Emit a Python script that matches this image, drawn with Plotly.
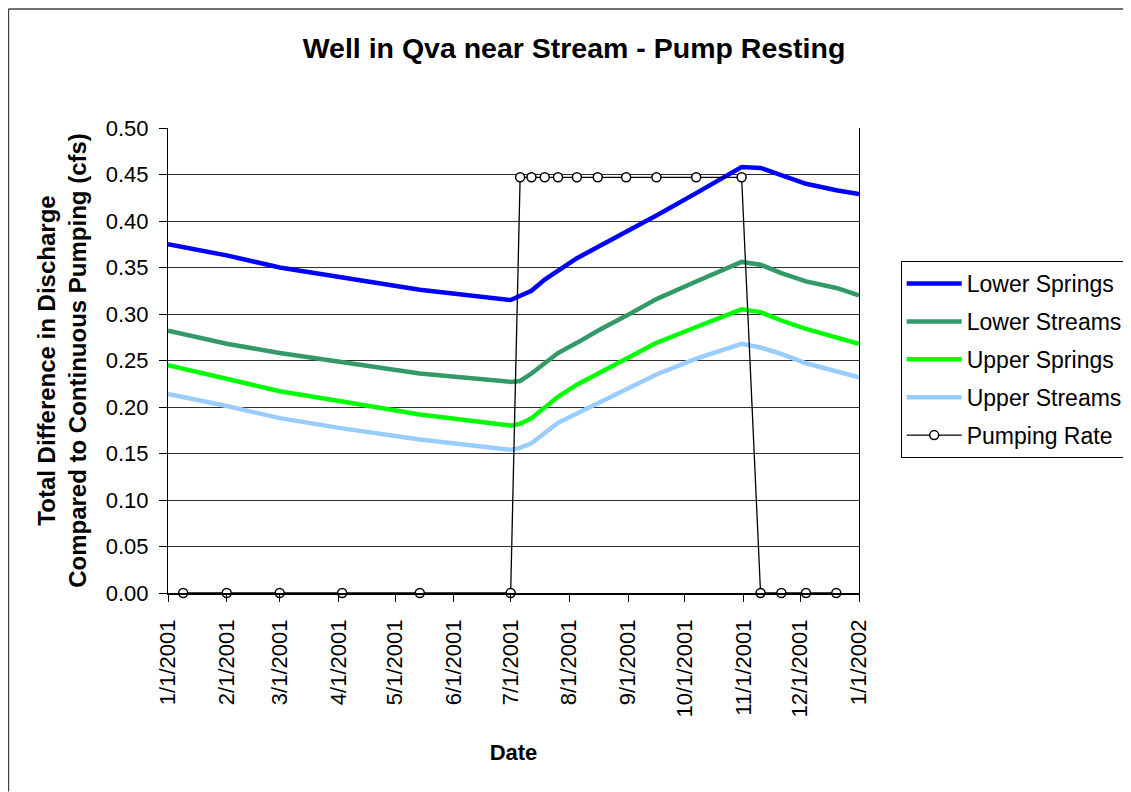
import plotly.graph_objects as go

# ---------------- data ----------------
series_dates = ["2001-01-01", "2001-02-01", "2001-03-01", "2001-04-03", "2001-05-14",
                "2001-07-01", "2001-07-06", "2001-07-12", "2001-07-19", "2001-07-26",
                "2001-08-05", "2001-08-16", "2001-08-31", "2001-09-16", "2001-10-07",
                "2001-10-31", "2001-11-10", "2001-11-21", "2001-12-04", "2001-12-20",
                "2002-01-01"]
lower_springs = [0.375, 0.363, 0.350, 0.339, 0.326, 0.315, 0.319, 0.325, 0.337, 0.347,
                 0.360, 0.372, 0.388, 0.406, 0.430, 0.458, 0.457, 0.449, 0.440, 0.433, 0.429]
lower_streams = [0.282, 0.268, 0.258, 0.248, 0.236, 0.227, 0.228, 0.236, 0.247, 0.258,
                 0.269, 0.282, 0.298, 0.316, 0.335, 0.356, 0.353, 0.344, 0.335, 0.328, 0.320]
upper_springs = [0.245, 0.230, 0.217, 0.206, 0.192, 0.180, 0.182, 0.188, 0.199, 0.211,
                 0.224, 0.236, 0.252, 0.269, 0.286, 0.305, 0.302, 0.293, 0.284, 0.275, 0.268]
upper_streams = [0.214, 0.201, 0.188, 0.177, 0.165, 0.154, 0.156, 0.161, 0.172, 0.183,
                 0.193, 0.204, 0.218, 0.235, 0.252, 0.268, 0.264, 0.257, 0.247, 0.238, 0.232]

pump_dates = ["2001-01-09", "2001-02-01", "2001-03-01", "2001-04-03", "2001-05-14",
              "2001-07-01", "2001-07-06", "2001-07-12", "2001-07-19", "2001-07-26",
              "2001-08-05", "2001-08-16", "2001-08-31", "2001-09-16", "2001-10-07",
              "2001-10-31", "2001-11-10", "2001-11-21", "2001-12-04", "2001-12-20"]
pump_rate = [0, 0, 0, 0, 0, 0, 0.447, 0.447, 0.447, 0.447,
             0.447, 0.447, 0.447, 0.447, 0.447, 0.447, 0, 0, 0, 0]

tick_dates = ["2001-01-01", "2001-02-01", "2001-03-01", "2001-04-01", "2001-05-01",
              "2001-06-01", "2001-07-01", "2001-08-01", "2001-09-01", "2001-10-01",
              "2001-11-01", "2001-12-01", "2002-01-01"]
tick_labels = ["1/1/2001", "2/1/2001", "3/1/2001", "4/1/2001", "5/1/2001", "6/1/2001",
               "7/1/2001", "8/1/2001", "9/1/2001", "10/1/2001", "11/1/2001",
               "12/1/2001", "1/1/2002"]

names = ["Lower Springs", "Lower Streams", "Upper Springs", "Upper Streams"]
colors = ["#0000FF", "#339966", "#00FF00", "#99CCFF"]
values = [lower_springs, lower_streams, upper_springs, upper_streams]

FONT = "Arial, Liberation Sans, sans-serif"

fig = go.Figure()
for i, (nm, col, vals) in enumerate(zip(names, colors, values)):
    fig.add_trace(go.Scatter(x=series_dates, y=vals, mode="lines", name=nm,
                             legendgroup=f"g{i}",
                             line=dict(color=col, width=4.5)))

fig.add_trace(go.Scatter(x=pump_dates, y=pump_rate, mode="lines+markers",
                         name="Pumping Rate", legendgroup="g5",
                         line=dict(color="black", width=1.3),
                         marker=dict(symbol="circle", size=9, color="white",
                                     line=dict(color="black", width=1.5)),
                         cliponaxis=False))

# figure is placed 8px in from the page corner by the html body margin
W, H = 1123, 784
L, R, T, B = 160.3, 851.3, 119.8, 585.3
pw, ph = R - L, B - T

def px(xp):
    return (xp - L) / pw

def py(yp):
    return (B - yp) / ph

fig.update_layout(
    width=W, height=H,
    margin=dict(l=L, r=W - R, t=T, b=H - B, autoexpand=False),
    paper_bgcolor="white", plot_bgcolor="white",
    font=dict(family=FONT, color="black", size=22),
    title=dict(text="Well in Qva near Stream - Pump Resting",
               font=dict(family=FONT, size=28.5, weight=700, color="black"),
               x=566 / W, xanchor="center", xref="container",
               y=1 - 40 / H, yanchor="middle", yref="container"),
    legend=dict(x=px(893), y=py(253), xanchor="left", yanchor="top",
                bordercolor="black", borderwidth=1, bgcolor="white",
                font=dict(family=FONT, size=23, color="black"),
                tracegroupgap=5, itemwidth=55),
    showlegend=True,
)

fig.update_xaxes(
    type="date", range=["2001-01-01", "2002-01-01"],
    tickmode="array", tickvals=tick_dates, ticktext=tick_labels,
    tickangle=-90, tickfont=dict(family=FONT, size=22, color="black"),
    ticks="outside", ticklen=7, tickcolor="black", tickwidth=1,
    ticklabelstandoff=9,
    showline=True, linecolor="black", linewidth=1.5, mirror=False,
    showgrid=False, zeroline=False,
    title=dict(text="Date", font=dict(family=FONT, size=22, weight=700), standoff=28),
)
fig.update_yaxes(
    range=[0, 0.5], dtick=0.05, tick0=0, tickformat=".2f",
    tickfont=dict(family=FONT, size=22, color="black"),
    ticks="outside", ticklen=8, tickcolor="black", tickwidth=1,
    ticklabelstandoff=6,
    showline=True, linecolor="black", linewidth=1, mirror=True,
    showgrid=True, gridcolor="#303030", gridwidth=1, zeroline=False,
    title=dict(text="Total Difference in Discharge<br>Compared to Continuous Pumping (cfs)",
               font=dict(family=FONT, size=24, weight=700), standoff=12),
)

# outer chart frame (cropped at right/bottom in the reference)
fig.add_shape(type="line", xref="paper", yref="paper",
              x0=px(0.75), y0=py(0.75), x1=px(1120), y1=py(0.75),
              line=dict(color="#404040", width=1.5))
fig.add_shape(type="line", xref="paper", yref="paper",
              x0=px(0.75), y0=py(0.75), x1=px(0.75), y1=py(784),
              line=dict(color="#404040", width=1.5))

fig.write_html("out.html")
